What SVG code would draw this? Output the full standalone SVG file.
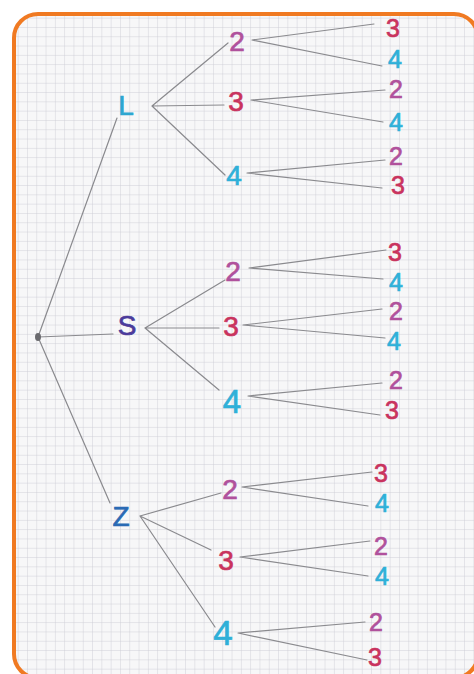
<svg xmlns="http://www.w3.org/2000/svg" width="474" height="674" viewBox="0 0 474 674">
<defs>
<pattern id="grid" x="0" y="0" width="9.3" height="9.3" patternUnits="userSpaceOnUse">
<path d="M9.3 0 V9.3 M0 9.3 H9.3" fill="none" stroke="#c6c7d0" stroke-width="0.8"/>
</pattern>
<clipPath id="clip"><rect x="14" y="14" width="464" height="664" rx="24"/></clipPath>
</defs>
<style>
.t{font-family:"Liberation Sans","DejaVu Sans",sans-serif;font-size:28px;text-anchor:middle;dominant-baseline:central;stroke-width:0.7}
.lf{font-size:25px}
.c2{fill:#b0519c;stroke:#b0519c}
.c3{fill:#c9335e;stroke:#c9335e}
.c4{fill:#2fb0d8;stroke:#2fb0d8}
.ln{stroke:#8a8a8e;stroke-width:1.2;fill:none;stroke-linecap:round}
</style>
<rect width="474" height="674" fill="#ffffff"/>
<g clip-path="url(#clip)">
<rect x="14" y="14" width="464" height="664" fill="#f7f7f8"/>
<rect x="14" y="14" width="464" height="664" fill="url(#grid)"/>
</g>
<rect x="14" y="14" width="464" height="664" rx="24" fill="none" stroke="#f07a22" stroke-width="4"/>

<g id="connectors">
<path class="ln" d="M38 337 L117 118 M38 337 L113 334 M38 337 L110 503"/>
<path class="ln" d="M152 106 L228 43 M152 106 L224 105 M152 106 L225 175"/>
<path class="ln" d="M252 40 L374 24 M252 40 L382 66"/>
<path class="ln" d="M251 100 L385 90 M251 100 L383 122"/>
<path class="ln" d="M247 173 L385 160 M247 173 L382 188"/>
<path class="ln" d="M145 328 L225 280 M145 328 L219 328 M145 328 L219 390"/>
<path class="ln" d="M249 268 L386 250 M249 268 L383 279"/>
<path class="ln" d="M243 325 L382 309 M243 325 L385 338"/>
<path class="ln" d="M248 396 L382 383 M248 396 L380 415"/>
<path class="ln" d="M140 516 L221 493 M140 516 L211 550 M140 516 L215 627"/>
<path class="ln" d="M242 487 L372 472 M242 487 L368 506"/>
<path class="ln" d="M240 557 L370 541 M240 557 L368 576"/>
<path class="ln" d="M238 633 L365 622 M238 633 L367 660"/>
</g>

<g id="root"><ellipse cx="38" cy="337" rx="3" ry="4" fill="#6a6a6e"/></g>

<g id="L"><text class="t" x="126" y="105" fill="#2ea6d0" stroke="#2ea6d0">L</text></g>
<g id="S"><text class="t" x="127" y="325" fill="#4b3b9b" stroke="#4b3b9b">S</text></g>
<g id="Z"><text class="t" x="121" y="516" fill="#2a6ab4" stroke="#2a6ab4">Z</text></g>

<g id="L2"><text class="t c2" x="237" y="41">2</text></g>
<g id="L3"><text class="t c3" x="236" y="101">3</text></g>
<g id="L4"><text class="t c4" x="234" y="175">4</text></g>
<g id="L23"><text class="t lf c3" x="393" y="28">3</text></g>
<g id="L24"><text class="t lf c4" x="395" y="59">4</text></g>
<g id="L32"><text class="t lf c2" x="396" y="89">2</text></g>
<g id="L34"><text class="t lf c4" x="396" y="122">4</text></g>
<g id="L42"><text class="t lf c2" x="396" y="156">2</text></g>
<g id="L43"><text class="t lf c3" x="398" y="185">3</text></g>

<g id="S2"><text class="t c2" x="233" y="271">2</text></g>
<g id="S3"><text class="t c3" x="231" y="326">3</text></g>
<g id="S4"><text class="t c4" x="232" y="401" style="font-size:33px">4</text></g>
<g id="S23"><text class="t lf c3" x="395" y="252">3</text></g>
<g id="S24"><text class="t lf c4" x="396" y="282">4</text></g>
<g id="S32"><text class="t lf c2" x="396" y="311">2</text></g>
<g id="S34"><text class="t lf c4" x="394" y="341">4</text></g>
<g id="S42"><text class="t lf c2" x="396" y="380">2</text></g>
<g id="S43"><text class="t lf c3" x="392" y="410">3</text></g>

<g id="Z2"><text class="t c2" x="230" y="489">2</text></g>
<g id="Z3"><text class="t c3" x="226" y="560">3</text></g>
<g id="Z4"><text class="t c4" x="223" y="632" style="font-size:35px">4</text></g>
<g id="Z23"><text class="t lf c3" x="381" y="473">3</text></g>
<g id="Z24"><text class="t lf c4" x="382" y="503">4</text></g>
<g id="Z32"><text class="t lf c2" x="381" y="546">2</text></g>
<g id="Z34"><text class="t lf c4" x="382" y="576">4</text></g>
<g id="Z42"><text class="t lf c2" x="376" y="622">2</text></g>
<g id="Z43"><text class="t lf c3" x="375" y="657">3</text></g>
</svg>
